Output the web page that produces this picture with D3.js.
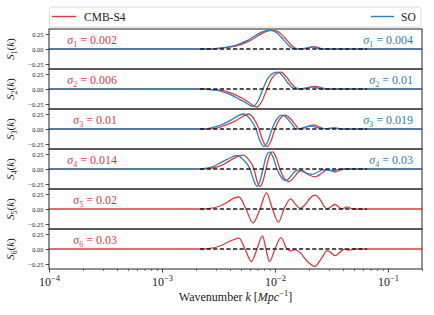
<!DOCTYPE html>
<html>
<head>
<meta charset="utf-8">
<script src="https://cdn.jsdelivr.net/npm/d3@7"></script>
<style>
  body { margin: 0; background: #fff; }
  text { font-family: "Liberation Serif", "DejaVu Serif", serif; fill: #222; }
</style>
</head>
<body>
<div id="chart"></div>
<script>
// values
var sigmaS4 = ["0.002", "0.006", "0.01", "0.014", "0.02", "0.03"];
var sigmaSO = ["0.004", "0.01", "0.019", "0.03"];
var yTicks = [-0.25, 0, 0.25];
var yTickLabels = ["\u22120.25", "0.00", "0.25"];
var xMajor = [1e-4, 1e-3, 1e-2, 1e-1];
var xMajorExp = ["\u22124", "\u22123", "\u22122", "\u22121"];
var dashRange = [2.17e-3, 6.52e-2];

var s1S4K = [1e-4, 2.659e-3, 3.260e-3, 3.998e-3, 4.901e-3, 6.009e-3, 7.367e-3, 8.325e-3, 9.408e-3, 1.063e-2, 1.201e-2, 1.357e-2, 1.534e-2, 1.733e-2, 1.959e-2, 2.259e-2, 2.605e-2, 2.944e-2, 0.2];
var s1S4 = [0, 0, 0.01, 0.03, 0.07, 0.14, 0.24, 0.29, 0.31, 0.29, 0.2, 0.09, 0.005, 0, 0.015, 0.04, 0.005, 0, 0];
var s1SOK = [1e-4, 2.502e-3, 3.067e-3, 3.761e-3, 4.611e-3, 5.652e-3, 6.930e-3, 7.832e-3, 8.850e-3, 1.0e-2, 1.130e-2, 1.277e-2, 1.443e-2, 1.631e-2, 1.843e-2, 2.125e-2, 2.451e-2, 2.770e-2, 0.2];
var s1SO = [0, 0, 0.01, 0.03, 0.07, 0.14, 0.24, 0.29, 0.31, 0.29, 0.2, 0.09, 0.005, 0, 0.012, 0.035, 0.005, 0, 0];

var s2S4K = [1e-4, 2.402e-3, 2.827e-3, 3.260e-3, 3.998e-3, 4.611e-3, 5.427e-3, 6.132e-3, 6.930e-3, 7.674e-3, 8.496e-3, 9.408e-3, 1.0206e-2, 1.130e-2, 1.251e-2, 1.385e-2, 1.566e-2, 1.733e-2, 1.959e-2, 2.259e-2, 2.605e-2, 2.944e-2, 0.2];
var s2S4 = [0, 0, -0.01, -0.02, -0.06, -0.11, -0.18, -0.25, -0.3, -0.2, 0, 0.18, 0.25, 0.28, 0.21, 0.1, 0.01, 0, 0.02, 0.045, 0.02, 0, 0];
var s2SOK = [1e-4, 2.169e-3, 2.659e-3, 3.260e-3, 3.998e-3, 4.611e-3, 5.427e-3, 6.387e-3, 7.073e-3, 7.832e-3, 8.671e-3, 9.601e-3, 1.063e-2, 1.177e-2, 1.303e-2, 1.473e-2, 1.631e-2, 1.843e-2, 2.125e-2, 2.451e-2, 2.770e-2, 0.2];
var s2SO = [0, 0, -0.01, -0.03, -0.09, -0.15, -0.22, -0.29, -0.2, 0, 0.18, 0.26, 0.28, 0.21, 0.1, 0.01, 0, 0.015, 0.035, 0.01, 0, 0];

var s3S4K = [1e-4, 2.402e-3, 2.944e-3, 3.611e-3, 4.426e-3, 5.106e-3, 5.769e-3, 6.519e-3, 7.218e-3, 7.832e-3, 8.496e-3, 9.218e-3, 1.0e-2, 1.107e-2, 1.226e-2, 1.357e-2, 1.503e-2, 1.631e-2, 1.805e-2, 1.999e-2, 2.213e-2, 2.501e-2, 2.770e-2, 3.067e-2, 3.396e-2, 3.761e-2, 4.165e-2, 0.2];
var s3S4 = [0, 0, 0.01, 0.06, 0.13, 0.2, 0.25, 0.17, 0, -0.2, -0.295, -0.2, 0, 0.17, 0.23, 0.18, 0.08, 0, 0.015, 0.05, 0.068, 0.03, 0.005, 0.008, 0.02, 0.005, 0, 0];
var s3SOK = [1e-4, 2.169e-3, 2.659e-3, 3.260e-3, 3.998e-3, 4.611e-3, 5.211e-3, 6.009e-3, 6.790e-3, 7.367e-3, 7.993e-3, 8.671e-3, 9.408e-3, 1.0416e-2, 1.153e-2, 1.277e-2, 1.414e-2, 1.534e-2, 1.698e-2, 1.881e-2, 2.082e-2, 2.353e-2, 2.605e-2, 2.885e-2, 3.194e-2, 3.611e-2, 3.999e-2, 0.2];
var s3SO = [0, 0, 0.015, 0.06, 0.14, 0.21, 0.25, 0.17, 0, -0.2, -0.29, -0.2, 0, 0.17, 0.23, 0.18, 0.08, 0, 0.01, 0.035, 0.05, 0.025, 0.005, 0.006, 0.015, 0.005, 0, 0];

var s4S4K = [1e-4, 2.169e-3, 2.659e-3, 3.130e-3, 3.611e-3, 4.164e-3, 4.706e-3, 5.211e-3, 5.769e-3, 6.519e-3, 6.930e-3, 7.367e-3, 7.832e-3, 8.325e-3, 8.850e-3, 9.504e-3, 1.0206e-2, 1.107e-2, 1.201e-2, 1.330e-2, 1.473e-2, 1.598e-2, 1.733e-2, 1.959e-2, 2.259e-2, 2.553e-2, 2.885e-2, 3.130e-2, 3.396e-2, 3.761e-2, 4.165e-2, 0.2];
var s4S4 = [0, 0, 0.01, 0.04, 0.09, 0.16, 0.21, 0.23, 0.17, 0, -0.2, -0.29, -0.2, 0, 0.2, 0.285, 0.2, 0, -0.15, -0.21, -0.14, -0.06, -0.025, -0.09, -0.13, -0.08, -0.015, -0.025, -0.05, -0.02, 0, 0];
var s4SOK = [1e-4, 1.959e-3, 2.402e-3, 2.827e-3, 3.260e-3, 3.761e-3, 4.164e-3, 4.611e-3, 5.211e-3, 6.009e-3, 6.519e-3, 6.930e-3, 7.367e-3, 7.832e-3, 8.325e-3, 8.940e-3, 9.601e-3, 1.0416e-2, 1.130e-2, 1.251e-2, 1.385e-2, 1.503e-2, 1.631e-2, 1.843e-2, 2.125e-2, 2.401e-2, 2.714e-2, 2.944e-2, 3.260e-2, 3.611e-2, 3.999e-2, 0.2];
var s4SO = [0, 0, 0.01, 0.04, 0.1, 0.16, 0.2, 0.225, 0.16, 0, -0.2, -0.285, -0.2, 0, 0.2, 0.28, 0.2, 0, -0.13, -0.19, -0.12, -0.04, -0.02, -0.06, -0.09, -0.05, -0.01, -0.015, -0.03, -0.01, 0, 0];

var s5S4K = [1e-4, 2.169e-3, 2.659e-3, 3.260e-3, 3.838e-3, 4.337e-3, 4.802e-3, 5.539e-3, 6.387e-3, 7.367e-3, 8.410e-3, 9.504e-3, 1.0739e-2, 1.201e-2, 1.371e-2, 1.503e-2, 1.664e-2, 1.843e-2, 2.040e-2, 2.259e-2, 2.501e-2, 2.714e-2, 2.885e-2, 3.130e-2, 3.396e-2, 3.648e-2, 3.878e-2, 4.123e-2, 4.383e-2, 4.707e-2, 5.107e-2, 0.2];
var s5S4 = [0, 0, 0.01, 0.05, 0.12, 0.18, 0.2, 0, -0.23, 0, 0.27, 0, -0.22, 0, 0.17, 0.09, 0.01, 0.07, 0.18, 0.23, 0.16, 0.05, 0, 0.04, 0.075, 0.04, 0, 0.02, 0.035, 0.01, 0, 0];

var s6S4K = [1e-4, 2.169e-3, 2.659e-3, 3.260e-3, 3.998e-3, 4.802e-3, 5.427e-3, 6.195e-3, 6.930e-3, 7.752e-3, 8.325e-3, 8.940e-3, 1.0e-2, 1.130e-2, 1.277e-2, 1.385e-2, 1.503e-2, 1.664e-2, 1.919e-2, 2.259e-2, 2.553e-2, 2.885e-2, 3.130e-2, 3.396e-2, 3.838e-2, 4.165e-2, 4.519e-2, 5.003e-2, 0.2];
var s6S4 = [0, 0, 0.01, 0.05, 0.13, 0.18, 0, -0.21, 0, 0.22, 0, -0.21, 0, 0.19, 0, -0.03, -0.01, -0.06, -0.2, -0.29, -0.17, -0.03, -0.06, -0.11, -0.04, 0, -0.02, 0, 0];

var redColor = "#e03a3e";
var blueColor = "#2f7dbd";

var svgWidth = 434;
var svgHeight = 315;
var plotLeft = 49;
var plotRight = 422;
var plotTop = 29;
var panelH = 40;

// pair k with values for each panel
var panelsS4 = [[s1S4K, s1S4], [s2S4K, s2S4], [s3S4K, s3S4], [s4S4K, s4S4], [s5S4K, s5S4], [s6S4K, s6S4]];
var panelsSO = [[s1SOK, s1SO], [s2SOK, s2SO], [s3SOK, s3SO], [s4SOK, s4SO]];

function zipCurve(pair) {
  return pair[0].map(function(k, i) { return {k: k, v: pair[1][i]}; });
}

var svg = d3.select("#chart")
  .append("svg")
  .attr("width", svgWidth)
  .attr("height", svgHeight);

var xScale = d3.scaleLog()
  .domain([1e-4, 0.2])
  .range([plotLeft, plotRight]);

var yScale = d3.scaleLinear()
  .domain([-1 / 3, 1 / 3])
  .range([panelH, 0]);

var line = d3.line()
  .x(d => xScale(d.k))
  .y(d => yScale(d.v))
  .curve(d3.curveMonotoneX);

panelsS4.forEach(function(pairS4, i) {
  var g = svg.append("g")
    .attr("transform", `translate(0, ${plotTop + i * panelH})`);

  // curves, CMB-S4 first then SO on top
  g.append("path")
    .datum(zipCurve(pairS4))
    .attr("d", line)
    .attr("fill", "none")
    .attr("stroke", redColor)
    .attr("stroke-width", 1.3);

  if (i < panelsSO.length) {
    g.append("path")
      .datum(zipCurve(panelsSO[i]))
      .attr("d", line)
      .attr("fill", "none")
      .attr("stroke", blueColor)
      .attr("stroke-width", 1.3);
  }

  // dashed zero line
  g.append("line")
    .attr("x1", xScale(dashRange[0]))
    .attr("x2", xScale(dashRange[1]))
    .attr("y1", yScale(0))
    .attr("y2", yScale(0))
    .attr("stroke", "#1a1a1a")
    .attr("stroke-width", 1.3)
    .attr("stroke-dasharray", "4.2,2.4");

  // y axis
  var yAxis = g.append("g")
    .attr("transform", `translate(${plotLeft}, 0)`)
    .call(d3.axisLeft(yScale)
      .tickValues(yTicks)
      .tickSize(3.5)
      .tickPadding(2)
      .tickFormat((d, j) => yTickLabels[j]));
  yAxis.select(".domain").remove();
  yAxis.selectAll("line").attr("stroke", "#222").attr("stroke-width", 0.8);
  yAxis.selectAll("text")
    .attr("font-family", "Liberation Serif")
    .attr("font-size", 6.5)
    .attr("fill", "#222");

  // panel frame
  g.append("rect")
    .attr("x", plotLeft)
    .attr("y", 0)
    .attr("width", plotRight - plotLeft)
    .attr("height", panelH)
    .attr("fill", "none")
    .attr("stroke", "#222")
    .attr("stroke-width", 1);

  // y label S_i(k)
  var ylab = g.append("text")
    .attr("transform", `translate(14, ${panelH / 2}) rotate(-90)`)
    .attr("text-anchor", "middle")
    .attr("font-size", 11);
  ylab.append("tspan").attr("font-style", "italic").text("S");
  ylab.append("tspan").attr("font-size", 7.5).attr("dy", 2.5).text(i + 1);
  ylab.append("tspan").attr("dy", -2.5).text("(");
  ylab.append("tspan").attr("font-style", "italic").text("k");
  ylab.append("tspan").text(")");

  // sigma annotations
  var sl = g.append("text")
    .attr("x", 117)
    .attr("y", 15)
    .attr("text-anchor", "end")
    .attr("font-size", 12)
    .style("fill", redColor);
  sl.append("tspan").attr("font-style", "italic").text("\u03c3");
  sl.append("tspan").attr("font-size", 8).attr("dy", 2.5).text(i + 1);
  sl.append("tspan").attr("dy", -2.5).text(" = " + sigmaS4[i]);

  if (i < sigmaSO.length) {
    var sr = g.append("text")
      .attr("x", 413)
      .attr("y", 15)
      .attr("text-anchor", "end")
      .attr("font-size", 12)
      .style("fill", blueColor);
    sr.append("tspan").attr("font-style", "italic").text("\u03c3");
    sr.append("tspan").attr("font-size", 8).attr("dy", 2.5).text(i + 1);
    sr.append("tspan").attr("dy", -2.5).text(" = " + sigmaSO[i]);
  }
});

// x axis on the bottom panel
var bottomY = plotTop + panelsS4.length * panelH;
var minorTicks = xScale.ticks().filter(d => xMajor.indexOf(d) < 0);

var xMinor = svg.append("g")
  .attr("transform", `translate(0, ${bottomY})`)
  .call(d3.axisBottom(xScale).tickValues(minorTicks).tickSize(2).tickFormat(""));
xMinor.select(".domain").remove();
xMinor.selectAll("line").attr("stroke", "#222").attr("stroke-width", 0.6);

var xAxis = svg.append("g")
  .attr("transform", `translate(0, ${bottomY})`)
  .call(d3.axisBottom(xScale).tickValues(xMajor).tickSize(3.5).tickFormat(""));
xAxis.select(".domain").remove();
xAxis.selectAll("line").attr("stroke", "#222").attr("stroke-width", 0.8);

xAxis.selectAll(".tick").each(function(d, j) {
  var t = d3.select(this).append("text")
    .attr("y", 17)
    .attr("text-anchor", "middle")
    .attr("font-size", 12)
    .style("fill", "#222");
  t.append("tspan").text("10");
  t.append("tspan").attr("font-size", 8.5).attr("dy", -5).text(xMajorExp[j]);
});

// x label
var xlab = svg.append("text")
  .attr("x", (plotLeft + plotRight) / 2)
  .attr("y", 301)
  .attr("text-anchor", "middle")
  .attr("font-size", 12);
xlab.append("tspan").text("Wavenumber ");
xlab.append("tspan").attr("font-style", "italic").text("k");
xlab.append("tspan").text(" [");
xlab.append("tspan").attr("font-style", "italic").text("Mpc");
xlab.append("tspan").attr("font-size", 8.5).attr("dy", -5).text("\u22121");
xlab.append("tspan").attr("dy", 5).text("]");

// legend
var legend = svg.append("g");
legend.append("rect")
  .attr("x", plotLeft + 0.5)
  .attr("y", 7)
  .attr("width", plotRight - plotLeft - 1.5)
  .attr("height", 20)
  .attr("rx", 2.5)
  .attr("fill", "#fff")
  .attr("stroke", "#d0d0d0")
  .attr("stroke-width", 0.8);

legend.append("line")
  .attr("x1", 52).attr("x2", 76)
  .attr("y1", 16.5).attr("y2", 16.5)
  .attr("stroke", redColor)
  .attr("stroke-width", 1.4);
legend.append("text")
  .attr("x", 84)
  .attr("y", 20.5)
  .attr("font-size", 11.5)
  .text("CMB-S4");

legend.append("line")
  .attr("x1", 371).attr("x2", 394)
  .attr("y1", 16.5).attr("y2", 16.5)
  .attr("stroke", blueColor)
  .attr("stroke-width", 1.4);
legend.append("text")
  .attr("x", 401)
  .attr("y", 20.5)
  .attr("font-size", 11.5)
  .text("SO");
</script>
</body>
</html>
